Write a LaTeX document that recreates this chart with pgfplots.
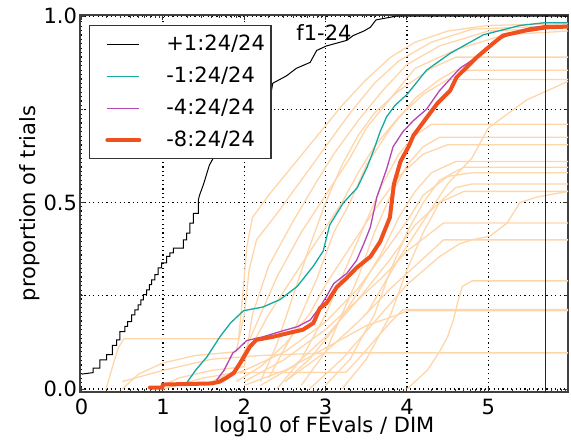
\documentclass[border=0pt]{standalone}
\usepackage{fontspec}
\setmainfont{DejaVu Sans}
\usepackage{pgfplots}
\pgfplotsset{compat=1.18}
\definecolor{bgcurve}{RGB}{255,214,170}
\definecolor{tealc}{RGB}{20,170,160}
\definecolor{purp}{RGB}{180,70,180}
\definecolor{redc}{RGB}{240,80,30}

\begin{document}
\begin{tikzpicture}
\begin{axis}[
  scale only axis, width=244pt, height=188.5pt,
  xmin=-0.02, xmax=5.98, ymin=-0.008, ymax=1.003,
  xtick={0,1,2,3,4,5}, xticklabels={0,1,2,3,4,5},
  minor xtick={0.301,0.477,0.602,0.699,0.778,0.845,0.903,0.954,
    1.301,1.477,1.602,1.699,1.778,1.845,1.903,1.954,
    2.301,2.477,2.602,2.699,2.778,2.845,2.903,2.954,
    3.301,3.477,3.602,3.699,3.778,3.845,3.903,3.954,
    4.301,4.477,4.602,4.699,4.778,4.845,4.903,4.954,
    5.301,5.477,5.602,5.699,5.778,5.845,5.903,5.954},
  ytick={0,0.5,1}, yticklabels={0.0,0.5,1.0},
  minor ytick={0.25,0.75},
  xmajorgrids, ymajorgrids, yminorgrids,
  grid style={black, line width=0.6pt, dash pattern=on 0.6pt off 1.6pt},
  tick align=inside,
  major tick length=2.5pt, minor tick length=1.4pt,
  every tick/.style={black!80, line width=0.5pt},
  axis line style={black!75, line width=0.6pt},
  ticklabel style={font=\fontsize{10.5}{12}\selectfont},
  yticklabel style={xshift=2pt},
  label style={font=\fontsize{10.5}{12}\selectfont},
  xlabel={log10 of FEvals / DIM},
  ylabel={proportion of trials},
  xlabel shift=-6pt, ylabel shift=-5pt,
  legend style={at={(0.018,0.973)}, anchor=north west, draw=black!80,
    line width=0.6pt, fill=white, font=\fontsize{10.5}{12}\selectfont,
    inner xsep=3pt, inner ysep=4.2pt, row sep=6pt, column sep=12.5pt,
    nodes={inner sep=0pt, text height=8pt, text depth=2pt}},
  legend cell align=left,
  legend image code/.code={\path (-5pt,0pt); \draw[#1] (0pt,0pt) -- (16pt,0pt);},
]
% background ECDFs (other targets / functions)
\addplot[bgcurve, line width=0.65pt, forget plot] coordinates {(0.3,0) (0.38,0.06) (0.45,0.11) (0.52,0.135) (1.93,0.135) (1.98,0.25) (2.03,0.38) (2.1,0.46) (2.3,0.52) (2.6,0.6) (2.9,0.68) (3.2,0.76) (3.5,0.83) (3.8,0.89) (4.1,0.93) (4.5,0.96) (5.0,0.975) (5.98,0.98)};
\addplot[bgcurve, line width=0.65pt, forget plot] coordinates {(0.5,0) (0.7,0.04) (1.0,0.07) (1.4,0.09) (1.9,0.1) (2.0,0.2) (2.06,0.32) (2.15,0.4) (2.4,0.47) (2.7,0.56) (3.0,0.65) (3.3,0.74) (3.6,0.82) (3.9,0.88) (4.3,0.93) (4.8,0.965) (5.98,0.975)};
\addplot[bgcurve, line width=0.65pt, forget plot] coordinates {(0.9,0) (1.2,0.03) (1.6,0.05) (2.0,0.06) (2.1,0.2) (2.3,0.33) (2.6,0.45) (2.9,0.56) (3.1,0.63) (3.4,0.72) (3.7,0.8) (4.0,0.87) (4.4,0.92) (5.0,0.96) (5.98,0.97)};
\addplot[bgcurve, line width=0.65pt, forget plot] coordinates {(1.5,0.01) (1.9,0.05) (2.1,0.15) (2.4,0.3) (2.7,0.42) (3.0,0.52) (3.3,0.62) (3.5,0.7) (3.8,0.78) (4.1,0.86) (4.6,0.91) (5.2,0.95) (5.98,0.96)};
\addplot[bgcurve, line width=0.65pt, forget plot] coordinates {(2.2,0.02) (2.4,0.12) (2.6,0.25) (2.8,0.38) (3.0,0.5) (3.2,0.6) (3.4,0.68) (3.6,0.74) (3.9,0.8) (4.3,0.86) (4.6,0.89) (5.98,0.89)};
\addplot[bgcurve, line width=0.65pt, forget plot] coordinates {(2.3,0.03) (2.6,0.15) (2.9,0.3) (3.1,0.42) (3.3,0.5) (3.5,0.6) (3.8,0.7) (4.1,0.78) (4.4,0.83) (4.6,0.855) (5.98,0.855)};
\addplot[bgcurve, line width=0.65pt, forget plot] coordinates {(1.8,0.03) (2.0,0.08) (2.3,0.2) (2.6,0.3) (2.9,0.4) (3.2,0.5) (3.4,0.58) (3.6,0.65) (3.9,0.73) (4.2,0.79) (4.5,0.83) (5.98,0.83)};
\addplot[bgcurve, line width=0.65pt, forget plot] coordinates {(2.4,0.0) (2.7,0.08) (3.0,0.2) (3.3,0.35) (3.5,0.45) (3.7,0.55) (3.9,0.63) (4.1,0.68) (4.3,0.71) (5.98,0.71)};
\addplot[bgcurve, line width=0.65pt, forget plot] coordinates {(2.7,0.01) (3.0,0.1) (3.2,0.2) (3.4,0.3) (3.6,0.42) (3.8,0.52) (4.0,0.6) (4.2,0.65) (4.4,0.675) (5.98,0.675)};
\addplot[bgcurve, line width=0.65pt, forget plot] coordinates {(1.9,0.02) (2.2,0.06) (2.5,0.12) (2.8,0.2) (3.0,0.28) (3.3,0.38) (3.6,0.48) (3.9,0.57) (4.2,0.63) (4.5,0.655) (5.98,0.655)};
\addplot[bgcurve, line width=0.65pt, forget plot] coordinates {(2.5,0.02) (2.8,0.08) (3.1,0.16) (3.4,0.26) (3.7,0.37) (3.9,0.46) (4.1,0.53) (4.3,0.58) (4.6,0.61) (5.98,0.61)};
\addplot[bgcurve, line width=0.65pt, forget plot] coordinates {(3.0,0.01) (3.3,0.08) (3.6,0.2) (3.8,0.32) (4.0,0.42) (4.2,0.5) (4.4,0.56) (4.7,0.595) (5.98,0.595)};
\addplot[bgcurve, line width=0.65pt, forget plot] coordinates {(1.6,0.02) (2.0,0.05) (2.5,0.1) (3.0,0.18) (3.4,0.27) (3.7,0.36) (4.0,0.45) (4.2,0.52) (4.5,0.57) (4.8,0.58) (5.98,0.58)};
\addplot[bgcurve, line width=0.65pt, forget plot] coordinates {(3.2,0.0) (3.5,0.08) (3.8,0.2) (4.0,0.32) (4.2,0.42) (4.4,0.5) (4.6,0.54) (4.8,0.55) (5.98,0.55)};
\addplot[bgcurve, line width=0.65pt, forget plot] coordinates {(2.2,0.01) (2.6,0.06) (3.0,0.14) (3.4,0.24) (3.8,0.35) (4.1,0.44) (4.4,0.5) (4.7,0.53) (5.98,0.53)};
\addplot[bgcurve, line width=0.65pt, forget plot] coordinates {(2.8,0.0) (3.2,0.08) (3.6,0.18) (4.0,0.28) (4.4,0.355) (4.65,0.39) (4.8,0.40) (5.02,0.41) (5.23,0.445) (5.39,0.5) (5.6,0.515) (5.98,0.53)};
\addplot[bgcurve, line width=0.65pt, forget plot] coordinates {(3.5,0.2) (3.9,0.35) (4.2,0.45) (4.5,0.55) (4.8,0.62) (5.0,0.7) (5.47,0.775) (5.98,0.825)};
\addplot[bgcurve, line width=0.65pt, forget plot] coordinates {(4.0,0.0) (4.1,0.02) (4.25,0.05) (4.4,0.1) (4.5,0.14) (4.57,0.185) (4.62,0.23) (4.68,0.275) (4.8,0.29) (5.98,0.29)};
\addplot[bgcurve, line width=0.65pt, forget plot] coordinates {(2.0,0.01) (2.5,0.05) (3.0,0.11) (3.5,0.17) (3.9,0.2) (4.0,0.21) (5.98,0.21)};
\addplot[bgcurve, line width=0.65pt, forget plot] coordinates {(1.0,0.0) (1.5,0.03) (1.9,0.044) (3.25,0.045) (3.4,0.08) (3.6,0.13) (3.8,0.18) (3.95,0.213) (5.98,0.213)};
\addplot[bgcurve, line width=0.65pt, forget plot] coordinates {(0.5,0.02) (1.0,0.05) (1.6,0.08) (2.2,0.09) (2.8,0.095) (3.0,0.097) (5.98,0.097)};
\addplot[bgcurve, line width=0.65pt, forget plot] coordinates {(2.5,0.02) (3.0,0.1) (3.4,0.18) (3.8,0.27) (4.1,0.33) (4.3,0.37) (4.45,0.40) (5.98,0.40)};
\addplot[bgcurve, line width=0.65pt, forget plot] coordinates {(2.0,0.02) (2.5,0.08) (3.0,0.16) (3.4,0.24) (3.7,0.3) (4.0,0.37) (4.3,0.42) (4.45,0.445) (5.98,0.445)};
% reference line
\addplot[black!85, line width=0.6pt, forget plot] coordinates {(5.70,-0.01) (5.70,1.01)};

% +1 target
\addplot[black, line width=0.5pt] coordinates {(0,0.04) (0.14,0.044) (0.14,0.056) (0.225,0.056) (0.225,0.078) (0.307,0.078) (0.307,0.092) (0.377,0.092) (0.377,0.117) (0.43,0.117) (0.43,0.132) (0.471,0.132) (0.471,0.154) (0.533,0.154) (0.533,0.168) (0.565,0.168) (0.565,0.181) (0.615,0.181) (0.615,0.199) (0.655,0.199) (0.655,0.212) (0.696,0.212) (0.696,0.226) (0.729,0.226) (0.729,0.239) (0.758,0.239) (0.758,0.253) (0.799,0.253) (0.799,0.266) (0.832,0.266) (0.832,0.28) (0.86,0.28) (0.86,0.293) (0.901,0.293) (0.901,0.307) (0.942,0.307) (0.942,0.325) (0.983,0.325) (0.983,0.338) (1.045,0.338) (1.045,0.356) (1.086,0.356) (1.086,0.365) (1.127,0.365) (1.127,0.378) (1.25,0.378) (1.25,0.4) (1.291,0.4) (1.291,0.418) (1.332,0.418) (1.332,0.445) (1.373,0.445) (1.373,0.471) (1.435,0.471) (1.435,0.507) (1.45,0.52) (1.5,0.55) (1.57,0.6) (1.62,0.62) (1.8,0.68) (2.0,0.73) (2.2,0.76) (2.32,0.783) (2.35,0.82) (2.52,0.84) (2.64,0.86) (2.81,0.876) (2.89,0.908) (3.01,0.92) (3.26,0.935) (3.34,0.948) (3.47,0.96) (3.55,0.97) (3.62,0.99) (3.87,1.0) (5.98,1.0)};
\addlegendentry{+1:24/24}
% -1 target
\addplot[tealc, line width=0.65pt] coordinates {(1.29,0.016) (1.4,0.05) (1.54,0.086) (1.7,0.14) (1.83,0.177) (1.99,0.21) (2.23,0.22) (2.44,0.24) (2.65,0.275) (2.85,0.33) (2.97,0.37) (3.05,0.44) (3.22,0.50) (3.39,0.54) (3.51,0.595) (3.59,0.64) (3.67,0.69) (3.75,0.73) (3.85,0.76) (4.0,0.79) (4.24,0.855) (4.53,0.90) (4.94,0.95) (5.39,0.975) (5.68,0.982) (5.98,0.982)};
\addlegendentry{-1:24/24}
% -4 target
\addplot[purp, line width=0.65pt] coordinates {(1.66,0.024) (1.75,0.05) (1.86,0.097) (1.91,0.105) (2.03,0.13) (2.23,0.14) (2.44,0.154) (2.65,0.167) (2.81,0.185) (2.93,0.22) (3.01,0.248) (3.1,0.283) (3.26,0.31) (3.38,0.345) (3.47,0.39) (3.55,0.434) (3.63,0.515) (3.75,0.59) (3.83,0.65) (3.95,0.69) (4.08,0.72) (4.24,0.75) (4.40,0.80) (4.65,0.86) (4.86,0.89) (5.06,0.93) (5.3,0.955) (5.5,0.968) (5.72,0.975) (5.98,0.975)};
\addlegendentry{-4:24/24}
% -8 target
\addplot[redc, line width=2pt, line cap=round] coordinates {(0.84,0.004) (0.99,0.004) (1.0,0.012) (1.6,0.015) (1.7,0.02) (1.78,0.03) (1.87,0.043) (1.95,0.07) (2.07,0.114) (2.15,0.132) (2.35,0.14) (2.56,0.151) (2.72,0.159) (2.85,0.177) (2.93,0.217) (3.01,0.23) (3.14,0.274) (3.26,0.298) (3.38,0.325) (3.55,0.355) (3.67,0.395) (3.79,0.46) (3.84,0.55) (3.92,0.61) (4.02,0.65) (4.08,0.68) (4.25,0.73) (4.37,0.765) (4.53,0.80) (4.61,0.836) (4.86,0.89) (5.06,0.927) (5.18,0.948) (5.47,0.962) (5.72,0.97) (5.98,0.972)};
\addlegendentry{-8:24/24}

\node[font=\fontsize{10.5}{12}\selectfont] at (axis cs:2.98,0.955) {f1-24};
\end{axis}
\pgfresetboundingbox
\path[use as bounding box] (-40pt,-24.5pt) rectangle (245.5pt,196pt);
\end{tikzpicture}
\end{document}
